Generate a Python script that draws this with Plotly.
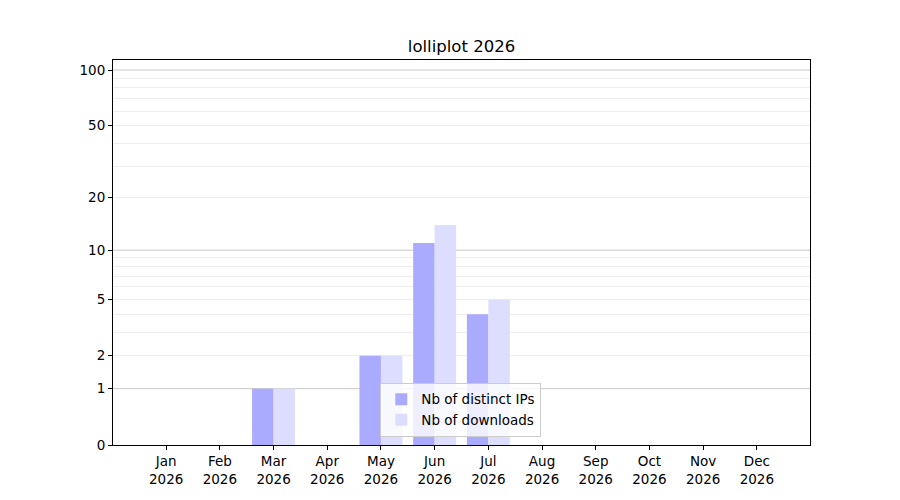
import numpy as np
import plotly.graph_objects as go

months = ["Jan", "Feb", "Mar", "Apr", "May", "Jun", "Jul", "Aug", "Sep", "Oct", "Nov", "Dec"]
year = 2026
distinct_ips = [0, 0, 1, 0, 2, 11, 4, 0, 0, 0, 0, 0]
downloads = [0, 0, 1, 0, 2, 14, 5, 0, 0, 0, 0, 0]

major_ticks = [0, 1, 2, 5, 10, 20, 50, 100]
major_grid = [1, 10, 100]
minor_grid = [2, 3, 4, 5, 6, 7, 8, 9, 20, 30, 40, 50, 60, 70, 80, 90]


# the y axis is a log10(1 + y) scale
def fwd(v):
    return np.log10(1 + np.asarray(v, dtype=float))


x = list(range(len(months)))
tick_labels = ["{}<br>{}".format(m, year) for m in months]

fig = go.Figure()
fig.add_trace(go.Bar(x=x, y=fwd(distinct_ips), customdata=distinct_ips,
                     name="Nb of distinct IPs", marker_color="#aaaaff",
                     marker_line_width=0, hovertemplate="%{customdata}"))
fig.add_trace(go.Bar(x=x, y=fwd(downloads), customdata=downloads,
                     name="Nb of downloads", marker_color="#ddddff",
                     marker_line_width=0, hovertemplate="%{customdata}"))

font = "DejaVu Sans"
fig.update_layout(
    width=900, height=500,
    margin=dict(l=105, r=98, t=52, b=63),
    paper_bgcolor="white", plot_bgcolor="white",
    barmode="group", bargap=0.2, bargroupgap=0,
    font=dict(family=font, size=13.5, color="black"),
    title=dict(text="lolliplot 2026", x=0.5, xanchor="center", xref="paper",
               y=1 - 38 / 500, yanchor="middle", font=dict(size=16.5)),
    legend=dict(x=0.499, y=0.021, xanchor="center", yanchor="bottom",
                bgcolor="rgba(255,255,255,0.8)", bordercolor="#cccccc",
                borderwidth=1, font=dict(size=13.5), tracegroupgap=0),
    showlegend=True,
)
fig.update_xaxes(
    range=[-0.99, 11.99], tickvals=x, ticktext=tick_labels,
    showgrid=False, zeroline=False, showline=True, mirror=True,
    linecolor="black", linewidth=1, ticks="outside", ticklen=4,
    tickcolor="black",
)
fig.update_yaxes(
    range=[0, 2.058], tickvals=fwd(major_ticks).tolist(),
    ticktext=[str(v) for v in major_ticks],
    showgrid=False, zeroline=False,
    showline=True, mirror=True, linecolor="black", linewidth=1,
    ticks="outside", ticklen=4, tickcolor="black",
    minor=dict(tickvals=fwd(minor_grid).tolist(), showgrid=True,
               gridcolor="#eeeeee", gridwidth=1, ticks=""),
)
# major grid only at 1, 10, 100
for v in major_grid:
    fig.add_hline(y=float(fwd(v)), line_color="#c8c8c8", line_width=1, layer="below")

fig.write_html("out.html")
